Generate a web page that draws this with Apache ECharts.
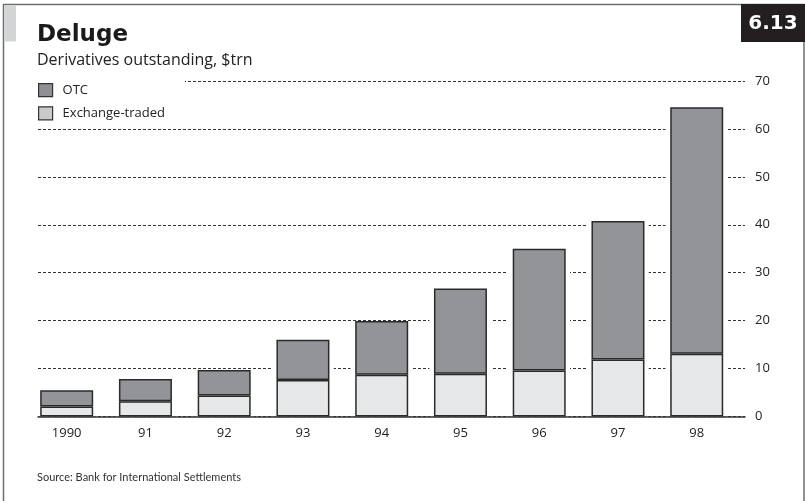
<!DOCTYPE html>
<html>
<head>
<meta charset="utf-8">
<script src="https://cdn.jsdelivr.net/npm/echarts@6/dist/echarts.min.js"></script>
<style>html,body{margin:0;padding:0;background:#fff}#c{width:805px;height:501px}</style>
</head>
<body>
<div id="c"></div>
<script>
var categories = ['1990', '91', '92', '93', '94', '95', '96', '97', '98'];
var exchangeTraded = [2.1, 3.2, 4.4, 7.6, 8.7, 8.9, 9.6, 11.9, 13.1];
var otc = [3.4, 4.6, 5.3, 8.4, 11.2, 17.8, 25.4, 28.9, 51.4];
var yTicks = [0, 10, 20, 30, 40, 50, 60, 70];

var totals = exchangeTraded.map(function (v, i) { return v + otc[i]; });
var haloData = totals.map(function (v, i) { return [i, v]; });

var FONT = 'Open Sans';
var chart = echarts.init(document.getElementById('c'), null, { renderer: 'canvas' });

var option = {
  backgroundColor: '#fff',
  animation: false,
  textStyle: { fontFamily: FONT, color: '#222' },
  title: [
    { text: 'Deluge', left: 37, top: 24, padding: 0, textStyle: { fontFamily: 'DejaVu Sans', fontSize: 23, fontWeight: 'bold', color: '#1a1a1a' } },
    { text: 'Derivatives outstanding, $trn', left: 37, top: 52, padding: 0, textStyle: { fontFamily: FONT, fontSize: 16, fontWeight: 'normal', color: '#222' } }
  ],
  legend: {
    orient: 'vertical', left: 38, top: 80,
    padding: [3, 20, 4, 0],
    backgroundColor: '#fff',
    itemWidth: 14, itemHeight: 13, itemGap: 9,
    icon: 'rect',
    textStyle: { fontFamily: FONT, fontSize: 13, color: '#222', padding: [0, 0, 0, 5] },
    data: [
      { name: 'OTC', itemStyle: { color: '#8f9093', borderColor: '#333', borderWidth: 1.2 } },
      { name: 'Exchange-traded', itemStyle: { color: '#c9cacc', borderColor: '#333', borderWidth: 1.2 } }
    ]
  },
  grid: [
    { left: 38, right: 60, top: 81, bottom: 84.5 },
    { left: 27.3, right: 68.9, top: 81, bottom: 84.5 }
  ],
  xAxis: [
    {
      type: 'value', gridIndex: 0, min: -0.3619, max: 8.6159, z: 3,
      axisLine: { show: true, onZero: false, lineStyle: { color: '#333', width: 1.5 } },
      axisTick: { show: false }, axisLabel: { show: false }, splitLine: { show: false }
    },
    {
      type: 'category', gridIndex: 1, data: categories,
      axisLine: { show: false }, axisTick: { show: false },
      axisLabel: { fontFamily: FONT, fontSize: 13, color: '#222', margin: 10 }
    }
  ],
  yAxis: [
    {
      type: 'value', gridIndex: 0, position: 'right', min: 0, max: 70, interval: 10,
      axisLine: { show: false }, axisTick: { show: false },
      axisLabel: {
        fontFamily: FONT, fontSize: 13, color: '#222', margin: 10,
        formatter: function (v) { return yTicks.indexOf(v) >= 0 ? String(v) : ''; }
      },
      splitLine: { show: true, lineStyle: { color: '#333', width: 1, type: [3, 2] } }
    },
    {
      type: 'value', gridIndex: 1, min: 0, max: 70, interval: 10, show: false
    }
  ],
  series: [
    {
      name: 'halo', type: 'bar', xAxisIndex: 0, yAxisIndex: 0, data: haloData,
      barWidth: 62, itemStyle: { color: '#fff' }, z: 1, silent: true
    },
    {
      name: 'Exchange-traded', type: 'bar', xAxisIndex: 1, yAxisIndex: 1, stack: 'd',
      data: exchangeTraded, barWidth: 53, z: 4,
      itemStyle: { color: '#e6e7e8', borderColor: '#2a2a2a', borderWidth: 1.5 }
    },
    {
      name: 'OTC', type: 'bar', xAxisIndex: 1, yAxisIndex: 1, stack: 'd',
      data: otc, barWidth: 53, z: 4,
      itemStyle: { color: '#939497', borderColor: '#2a2a2a', borderWidth: 1.5 }
    }
  ],
  graphic: [
    { type: 'line', shape: { x1: 3, y1: 4.5, x2: 805, y2: 4.5 }, style: { stroke: '#6d6e70', lineWidth: 1.5 }, z: 10 },
    { type: 'line', shape: { x1: 3.5, y1: 4, x2: 3.5, y2: 501 }, style: { stroke: '#6d6e70', lineWidth: 1.5 }, z: 10 },
    { type: 'line', shape: { x1: 804, y1: 4, x2: 804, y2: 501 }, style: { stroke: '#6d6e70', lineWidth: 1.5 }, z: 10 },
    { type: 'rect', shape: { x: 4.5, y: 5.5, width: 11.5, height: 36 }, style: { fill: '#d3d4d6' }, z: 10 },
    { type: 'rect', shape: { x: 741, y: 4, width: 64, height: 38 }, style: { fill: '#231f20' }, z: 11 },
    { type: 'text', x: 773, y: 24, style: { text: '6.13', fill: '#fff', font: 'bold 20px "DejaVu Sans"', align: 'center', verticalAlign: 'middle' }, z: 12 },
    { type: 'text', x: 37, y: 477, style: { text: 'Source: Bank for International Settlements', fill: '#333', font: '11px Lato', verticalAlign: 'middle' }, z: 12 }
  ]
};
chart.setOption(option);
</script>
</body>
</html>
